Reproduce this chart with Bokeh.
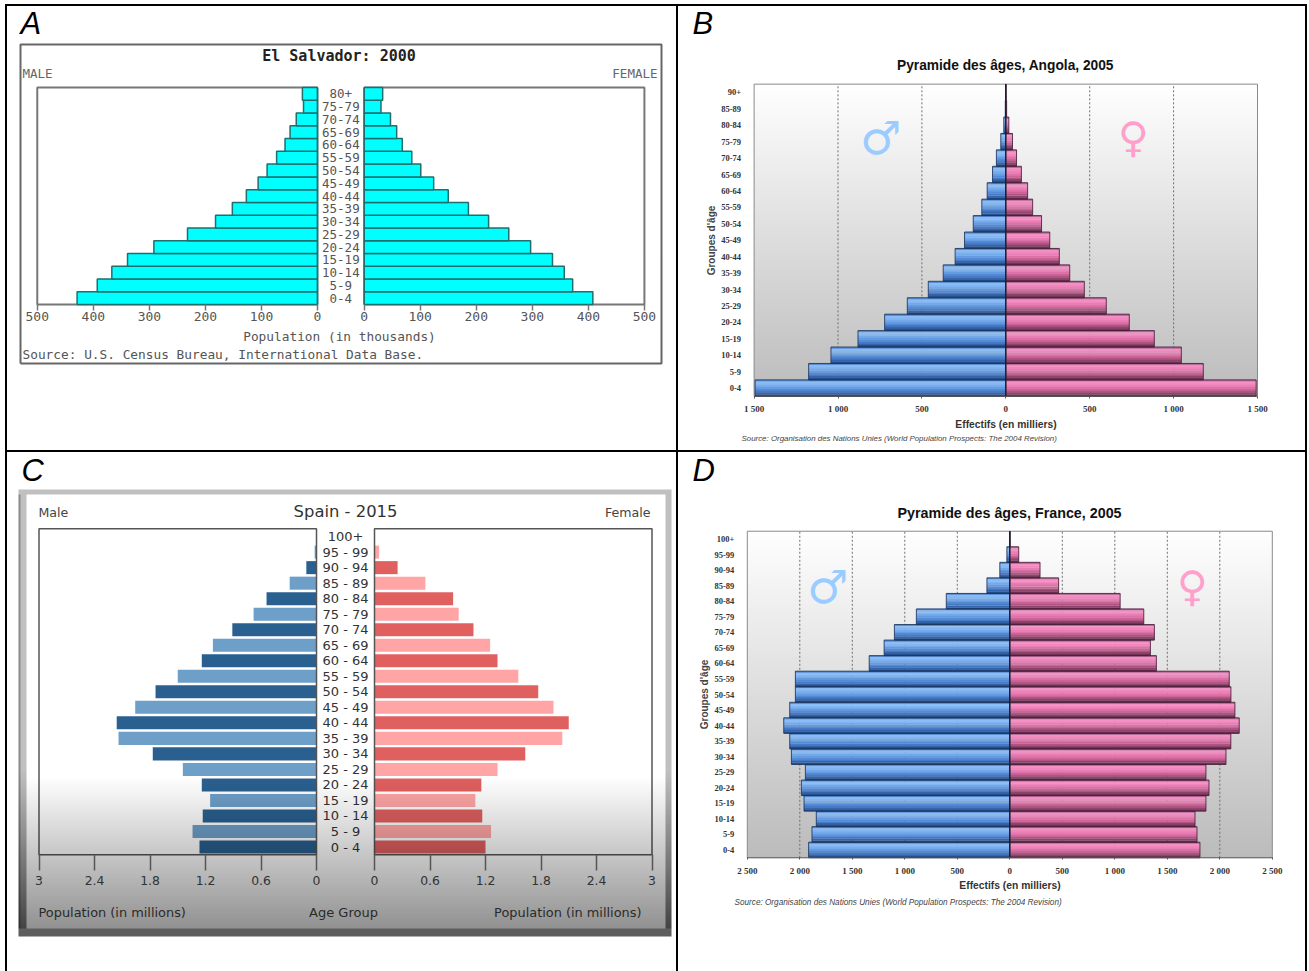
import numpy as np
from bokeh.embed import file_html
from bokeh.resources import INLINE
from bokeh.plotting import figure
from bokeh.layouts import column, row
from bokeh.models import Range1d, FixedTicker, Label, Spacer

# ---- data (youngest age group first) ----
a_ages = ["0-4","5-9","10-14","15-19","20-24","25-29","30-34","35-39","40-44","45-49","50-54","55-59","60-64","65-69","70-74","75-79","80+"]
a_male = [429,393,367,339,292,232,182,152,127,106,90,73,58,49,38,25,27]
a_female = [408,372,357,336,297,258,222,186,150,124,101,85,68,58,47,30,33]
a_ticks = [0,100,200,300,400,500]

b_ages = ["0-4","5-9","10-14","15-19","20-24","25-29","30-34","35-39","40-44","45-49","50-54","55-59","60-64","65-69","70-74","75-79","80-84","85-89","90+"]
b_male = [1494,1175,1042,881,722,587,462,373,302,246,194,143,111,79,56,30,12,3,1]
b_female = [1492,1177,1046,885,736,599,468,381,319,262,213,160,130,93,64,40,18,5,1]
b_ticks = [-1500,-1000,-500,0,500,1000,1500]

c_ages = ["0 - 4","5 - 9","10 - 14","15 - 19","20 - 24","25 - 29","30 - 34","35 - 39","40 - 44","45 - 49","50 - 54","55 - 59","60 - 64","65 - 69","70 - 74","75 - 79","80 - 84","85 - 89","90 - 94","95 - 99","100+"]
c_male = [1.265,1.34,1.23,1.15,1.24,1.445,1.77,2.14,2.16,1.96,1.74,1.50,1.24,1.12,0.91,0.68,0.54,0.29,0.11,0.02,0.005]
c_female = [1.20,1.26,1.165,1.09,1.155,1.33,1.63,2.03,2.10,1.935,1.77,1.555,1.33,1.25,1.07,0.91,0.85,0.55,0.25,0.05,0.005]
c_ticks = [0,0.6,1.2,1.8,2.4,3]

d_ages = ["0-4","5-9","10-14","15-19","20-24","25-29","30-34","35-39","40-44","45-49","50-54","55-59","60-64","65-69","70-74","75-79","80-84","85-89","90-94","95-99","100+"]
d_male = [1916,1884,1843,1960,1985,1947,2080,2096,2153,2096,2042,2042,1339,1197,1099,890,605,218,95,28,1]
d_female = [1811,1783,1764,1868,1897,1868,2059,2105,2185,2144,2106,2090,1396,1339,1377,1276,1051,465,288,85,1]
d_ticks = [-2500,-2000,-1500,-1000,-500,0,500,1000,1500,2000,2500]

BLUES = ["#5b8fd0","#8abcf5","#82b5f2","#74a9ea","#659be0","#558bd5","#457ac6","#3566ac","#264f8c"]
PINKS = ["#b56c98","#f490c4","#f088bd","#e87eb3","#dc72a8","#cb6598","#b05583","#90436b","#713353"]

MONO = "DejaVu Sans Mono"
SANS = "Liberation Sans"
SERIF = "Liberation Serif"
DV = "DejaVu Sans"

TF = {}


def base_fig(cell, cx, sx, row0, rh):
    ox, oy, w, h = cell
    p = figure(width=w, height=h, output_backend="svg", toolbar_location=None,
               x_range=Range1d((ox - cx) / sx, (ox + w - cx) / sx),
               y_range=Range1d((row0 - oy - h) / rh, (row0 - oy) / rh),
               min_border_left=0, min_border_right=0, min_border_top=0, min_border_bottom=0)
    p.frame_align = False
    p.grid.visible = False
    p.outline_line_color = None
    p.background_fill_color = "white"
    p.border_fill_color = "white"
    TF[p.id] = (cx, sx, row0, rh)
    return p


def dx(p, x):
    cx, sx, _, _ = TF[p.id]
    return (x - cx) / sx


def dy(p, y):
    _, _, row0, rh = TF[p.id]
    return (row0 - y) / rh


def lab(p, x, y, text, size, font=SANS, style="normal", color="#000000", align="left", base="middle"):
    p.add_layout(Label(x=dx(p, x), y=dy(p, y), text=text,
                       text_font=font, text_font_size=f"{size}px", text_font_style=style,
                       text_color=color, text_align=align, text_baseline=base))


def glossy(p, ys, vals, sign, colors, edge):
    n = len(colors)
    left = [0.0] * len(vals)
    right = [sign * v for v in vals]
    for k, c in enumerate(colors):
        off = 0.5 - (k + 0.5) / n
        p.hbar(y=[y + off for y in ys], left=left, right=right, height=1.12 / n,
               fill_color=c, line_color=None)
    p.hbar(y=ys, left=left, right=right, height=1.0, fill_color=None, line_color=edge, line_width=1, line_alpha=0.85)


def excel_panel(cell, cx, sx, row0, rh, ages, male, female, ticks, title, title_xy, title_size, syms, source, src_xy, src_size, letter):
    p = base_fig(cell, cx, sx, row0, rh)
    n = len(ages)
    lim = max(ticks)
    ybot, ytop = -0.5, n - 0.5
    # background gradient of the plot area
    t = np.linspace(1, 0, 256)
    g = (255 + (188 - 255) * t).astype(np.uint32)
    rgba = (255 << 24) | (g << 16) | (g << 8) | g
    img = np.tile(rgba[:, None], (1, 2)).astype(np.uint32)
    p.image_rgba(image=[img], x=-lim, y=ybot, dw=2 * lim, dh=n)
    p.line(x=[-lim, -lim, lim, lim], y=[ybot, ytop, ytop, ybot], line_color="#8a8a8a", line_width=1)
    gt = [t_ for t_ in ticks if t_ != 0 and abs(t_) != lim]
    p.segment(x0=gt, x1=gt, y0=[ybot] * len(gt), y1=[ytop] * len(gt), line_color="#707070", line_dash="2 2", line_width=1)
    ys = list(range(n))
    glossy(p, ys, male, -1, BLUES, "#1c3560")
    glossy(p, ys, female, 1, PINKS, "#4a1f3c")
    p.line(x=[0, 0], y=[ybot, ytop], line_color="#1a1a2a", line_width=1.2)
    p.line(x=[-lim, lim], y=[ybot, ybot], line_color="#555555", line_width=1)
    xa = p.xaxis[0]
    xa.fixed_location = ybot
    xa.bounds = (-lim, lim)
    xa.ticker = FixedTicker(ticks=ticks)
    xa.major_label_overrides = {t_: f"{abs(t_):,}".replace(",", " ") for t_ in ticks}
    xa.major_label_text_font = SERIF
    xa.major_label_text_font_style = "bold"
    xa.major_label_text_font_size = "9px"
    xa.major_label_text_color = "#333333"
    xa.major_label_standoff = 6
    xa.axis_line_color = None
    xa.major_tick_line_color = "#555555"
    xa.major_tick_out = 2
    xa.major_tick_in = 0
    xa.minor_tick_line_color = None
    xa.axis_label = "Effectifs (en milliers)"
    xa.axis_label_text_font = SANS
    xa.axis_label_text_font_style = "bold"
    xa.axis_label_text_font_size = "10.3px"
    xa.axis_label_text_color = "#333333"
    xa.axis_label_standoff = 1
    ya = p.yaxis[0]
    ya.fixed_location = -lim
    ya.bounds = (ybot, ytop)
    ya.ticker = FixedTicker(ticks=ys)
    ya.major_label_overrides = {i: a for i, a in enumerate(ages)}
    ya.major_label_text_font = SERIF
    ya.major_label_text_font_style = "bold"
    ya.major_label_text_font_size = "8.5px"
    ya.major_label_text_color = "#333333"
    ya.major_label_standoff = 7
    ya.axis_line_color = None
    ya.major_tick_line_color = None
    ya.minor_tick_line_color = None
    ya.axis_label = "Groupes d'âge"
    ya.axis_label_text_font = SANS
    ya.axis_label_text_font_style = "bold"
    ya.axis_label_text_font_size = "10px"
    ya.axis_label_text_color = "#444444"
    ya.axis_label_standoff = 2
    lab(p, title_xy[0], title_xy[1], title, title_size, style="bold", color="#111111", align="center")
    lab(p, syms[0], syms[2], "♂", 46, font=DV, style="bold", color="#9accff", align="center")
    lab(p, syms[1], syms[2], "♀", 42, font=DV, style="bold", color="#ffa0cc", align="center")
    lab(p, src_xy[0], src_xy[1], source, src_size, style="italic", color="#444444")
    lab(p, letter[1], letter[2], letter[0], 31, style="italic", base="alphabetic")
    return p


# ---- panel A ----
cell_a = (7, 6, 669, 444)
sa = 0.5605
gap_a = 41.6
pa = base_fig(cell_a, 340.35, sa, 297.6, 12.76)
x0_a, x1_a, y0_a, y1_a = dx(pa, 20), dx(pa, 661), dy(pa, 363), dy(pa, 44)
pa.line(x=[x0_a, x0_a, x1_a, x1_a, x0_a], y=[y0_a, y1_a, y1_a, y0_a, y0_a], line_color="#666666", line_width=2)
ya_pos = list(range(len(a_ages)))
for vals, sign in ((a_male, -1), (a_female, 1)):
    xl = sign * (max(a_ticks) + gap_a)
    pa.line(x=[sign * gap_a, xl, xl, sign * gap_a], y=[-0.5, -0.5, len(a_ages) - 0.5, len(a_ages) - 0.5],
            line_color="#777777", line_width=2)
    pa.hbar(y=ya_pos, left=[sign * gap_a] * len(vals), right=[sign * (v + gap_a) for v in vals], height=1.0,
            fill_color="#00ffff", line_color="#1f6f6f", line_width=1.5)
    pa.line(x=[sign * gap_a, sign * gap_a], y=[-0.5, len(a_ages) - 0.5], line_color="#1f6f6f", line_width=1.5)
pa.text(x=[0] * len(a_ages), y=ya_pos, text=a_ages, text_font={"value": MONO}, text_font_size="12.5px",
        text_color="#555555", text_align="center", text_baseline="middle")
pa.yaxis.visible = False
ax = pa.xaxis[0]
ax.fixed_location = -0.5
tk_a = [-(t + gap_a) for t in a_ticks] + [t + gap_a for t in a_ticks]
ax.ticker = FixedTicker(ticks=tk_a)
ax.major_label_overrides = {(-(t + gap_a)): str(t) for t in a_ticks} | {(t + gap_a): str(t) for t in a_ticks}
ax.axis_line_color = None
ax.major_tick_line_color = "#777777"
ax.major_tick_line_width = 1.5
ax.major_tick_out = 6
ax.major_tick_in = 0
ax.minor_tick_line_color = None
ax.major_label_text_font = MONO
ax.major_label_text_font_size = "13px"
ax.major_label_text_color = "#555555"
ax.major_label_standoff = 2
lab(pa, 338.5, 55, "El Salvador: 2000", 15, font=MONO, style="bold", color="#222222", align="center")
lab(pa, 22, 73, "MALE", 12.5, font=MONO, color="#666666")
lab(pa, 657, 73, "FEMALE", 12.5, font=MONO, color="#666666", align="right")
lab(pa, 339, 336, "Population (in thousands)", 12.8, font=MONO, color="#555555", align="center")
lab(pa, 22, 354, "Source: U.S. Census Bureau, International Data Base.", 12.8, font=MONO, color="#555555")
lab(pa, 20, 23, "A", 31, style="italic", base="alphabetic")

# ---- panel B ----
cell_b = (678, 6, 627, 444)
pb = excel_panel(cell_b, 1005.3, 0.1678, 387.6, 16.43,
                 b_ages, b_male, b_female, b_ticks, "Pyramide des âges, Angola, 2005", (1005, 65), 13.75, (880, 1133, 137),
                 "Source: Organisation des Nations Unies (World Population Prospects: The 2004 Revision)", (741, 438), 7.9,
                 ("B", 692, 23))

# ---- panel C ----
cell_c = (7, 452, 669, 519)
box_c = (18, 671, 489, 936)
sc = 92.5
gap_c = 29 / sc
pc = base_fig(cell_c, 345, sc, 846.5, 15.52)
yc = list(range(len(c_ages)))
m_cols = ["#2a6090" if i % 2 == 0 else "#6e9fc9" for i in yc]
f_cols = ["#e06060" if i % 2 == 0 else "#ffa5a5" for i in yc]
pc.hbar(y=yc, left=[-gap_c] * len(yc), right=[-(v + gap_c) for v in c_male], height=0.84, fill_color=m_cols, line_color=None)
pc.hbar(y=yc, left=[gap_c] * len(yc), right=[v + gap_c for v in c_female], height=0.84, fill_color=f_cols, line_color=None)
for sign in (-1, 1):
    xl = sign * (max(c_ticks) + gap_c)
    pc.line(x=[sign * gap_c, xl, xl, sign * gap_c, sign * gap_c],
            y=[-0.5, -0.5, len(yc) - 0.5, len(yc) - 0.5, -0.5], line_color="#555555", line_width=1.5)
pc.text(x=[0] * len(yc), y=yc, text=c_ages, text_font={"value": DV}, text_font_size="13px",
        text_color="#333333", text_align="center", text_baseline="middle")
# glass frame and bottom shading
Wc, Hc = box_c[1] - box_c[0], box_c[3] - box_c[2]
px_y = np.arange(Hc) + box_c[2]
alpha = np.clip((px_y - 775) / 155, 0, 1) * 0.44
rgba = np.zeros((Hc, Wc), dtype=np.uint32)
rgba[:] = (np.round(alpha * 255).astype(np.uint32)[:, None] << 24)
shade = 192 - 130 * np.clip((px_y - 770) / 166, 0, 1)
for xs in (np.arange(2, 8), np.arange(Wc - 6, Wc)):
    g = shade.astype(np.uint32)
    rgba[:, xs] = ((255 << 24) | (g << 16) | (g << 8) | g)[:, None]
for xs in (np.arange(0, 2),):
    g = (shade * 0.72).astype(np.uint32)
    rgba[:, xs] = ((255 << 24) | (g << 16) | (g << 8) | g)[:, None]
rgba[:5, :] = (255 << 24) | (0xC0 << 16) | (0xC0 << 8) | 0xC0
g = np.uint32(0x5e)
rgba[-8:, :] = (255 << 24) | (g << 16) | (g << 8) | g
pc.image_rgba(image=[rgba[::-1]], x=dx(pc, box_c[0]), y=dy(pc, box_c[3]),
              dw=dx(pc, box_c[1]) - dx(pc, box_c[0]), dh=dy(pc, box_c[2]) - dy(pc, box_c[3]))
pc.yaxis.visible = False
ax = pc.xaxis[0]
ax.fixed_location = -0.5
tk_c = [-(t + gap_c) for t in c_ticks] + [t + gap_c for t in c_ticks]
ax.ticker = FixedTicker(ticks=tk_c)
ax.major_label_overrides = {(-(t + gap_c)): f"{t:g}" for t in c_ticks} | {(t + gap_c): f"{t:g}" for t in c_ticks}
ax.axis_line_color = None
ax.major_tick_line_color = "#555555"
ax.major_tick_line_width = 1.5
ax.major_tick_out = 16
ax.major_tick_in = 0
ax.minor_tick_line_color = None
ax.major_label_text_font = DV
ax.major_label_text_font_size = "12.4px"
ax.major_label_text_color = "#333333"
ax.major_label_standoff = 5
lab(pc, 345, 511, "Spain - 2015", 16.4, font=DV, color="#333333", align="center")
lab(pc, 38, 512, "Male", 12.6, font=DV, color="#444444")
lab(pc, 650, 512, "Female", 12.6, font=DV, color="#444444", align="right")
lab(pc, 38, 912, "Population (in millions)", 12.9, font=DV, color="#2a2a2a")
lab(pc, 343, 912, "Age Group", 13, font=DV, color="#2a2a2a", align="center")
lab(pc, 641, 912, "Population (in millions)", 12.9, font=DV, color="#2a2a2a", align="right")
lab(pc, 21, 470, "C", 31, style="italic", base="alphabetic")

# ---- panel D ----
cell_d = (678, 452, 627, 519)
pd_ = excel_panel(cell_d, 1009.3, 0.105, 849.5, 15.55,
                  d_ages, d_male, d_female, d_ticks, "Pyramide des âges, France, 2005", (1009, 512), 14.3, (827, 1192, 586),
                  "Source: Organisation des Nations Unies (World Population Prospects: The 2004 Revision)", (734, 902), 8.2,
                  ("D", 692, 470))


def vline(h):
    return Spacer(width=2, height=h, styles={"background-color": "#000000"})


def hline(w):
    return Spacer(width=w, height=2, styles={"background-color": "#000000"})


root = column(hline(1302),
              row(vline(444), pa, vline(444), pb, vline(444)),
              hline(1302),
              row(vline(519), pc, vline(519), pd_, vline(519)),
              styles={"position": "absolute", "left": "5px", "top": "4px"})

open("out.html", "w").write(file_html(root, INLINE))
